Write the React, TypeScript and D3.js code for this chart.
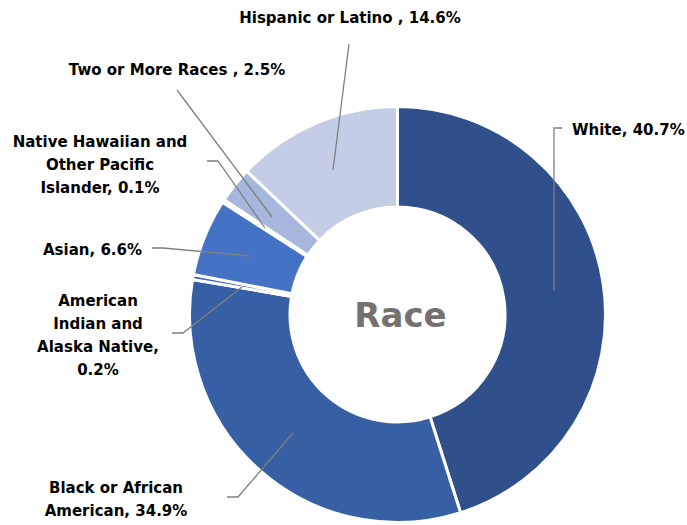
import React from "react";
import * as d3 from "d3";

// ---- data (slice shares; label text as printed) ----
const categories = [
  "White",
  "Black or African American",
  "American Indian and Alaska Native",
  "Asian",
  "Native Hawaiian and Other Pacific Islander",
  "Two or More Races",
  "Hispanic or Latino",
];
const sliceShares = [45.1, 32.6, 0.39, 6.0, 0.22, 2.8, 12.9];
const labelLines = [
  ["White, 40.7%"],
  ["Black or African", "American, 34.9%"],
  ["American", "Indian and", "Alaska Native,", "0.2%"],
  ["Asian, 6.6%"],
  ["Native Hawaiian and", "Other Pacific", "Islander, 0.1%"],
  ["Two or More Races , 2.5%"],
  ["Hispanic or Latino , 14.6%"],
];
const colors = ["#2F508B", "#375FA3", "#4169B5", "#4472C4", "#6F8FD0", "#A7B6DC", "#C4CDE6"];
const centerTitle = "Race";

// ---- layout (label positions and leader line paths) ----
const W = 687;
const H = 525;
const cx = 397.5;
const cy = 314.5;
const outerR = 208;
const innerR = 107.5;

type Layout = { x: number; y: number; anchor: string; line: [number, number][] };
const labelLayout: Layout[] = [
  { x: 572, y: 135, anchor: "start", line: [[554, 290], [554, 128], [562, 128]] },
  { x: 116, y: 493, anchor: "middle", line: [[293, 433], [238, 497], [227, 497]] },
  { x: 98, y: 306, anchor: "middle", line: [[242, 287], [183, 333], [172, 333]] },
  { x: 142, y: 255, anchor: "end", line: [[250, 256], [163, 248], [152, 248]] },
  { x: 100, y: 147, anchor: "middle", line: [[265, 228], [218, 161], [207, 161]] },
  { x: 177, y: 75, anchor: "middle", line: [[272, 217], [177, 90]] },
  { x: 350, y: 23, anchor: "middle", line: [[333, 170], [349, 44]] },
];

const FONT = "'DejaVu Sans', sans-serif";

export default function App() {
  const pie = d3
    .pie<number>()
    .sort(null)
    .value((d) => d)
    .startAngle(0)
    .endAngle(2 * Math.PI);
  const arcs = pie(sliceShares);
  const arc = d3.arc<d3.PieArcDatum<number>>().innerRadius(innerR).outerRadius(outerR);
  const lineGen = d3.line();

  return (
    <svg
      width={W}
      height={H}
      style={{ position: "absolute", left: 0, top: 0, background: "#fff" }}
    >
      <g transform={`translate(${cx},${cy})`}>
        {arcs.map((a, i) => (
          <path
            key={categories[i]}
            d={arc(a) || ""}
            fill={colors[i]}
            stroke="#fff"
            strokeWidth={3}
          />
        ))}
      </g>
      {labelLayout.map((l, i) => (
        <path
          key={"l" + i}
          d={lineGen(l.line) || ""}
          fill="none"
          stroke="#7F7F7F"
          strokeWidth={1.3}
        />
      ))}
      {labelLayout.map((l, i) => (
        <text
          key={"t" + i}
          x={l.x}
          y={l.y}
          textAnchor={l.anchor as any}
          fontFamily={FONT}
          fontWeight="bold"
          fontSize={15}
          fill="#000"
        >
          {labelLines[i].map((s, j) => (
            <tspan key={j} x={l.x} dy={j === 0 ? 0 : 23}>
              {s}
            </tspan>
          ))}
        </text>
      ))}
      <text
        x={cx + 3}
        y={cy + 12}
        textAnchor="middle"
        fontFamily={FONT}
        fontWeight="bold"
        fontSize={34}
        fill="#767171"
      >
        {centerTitle}
      </text>
    </svg>
  );
}
